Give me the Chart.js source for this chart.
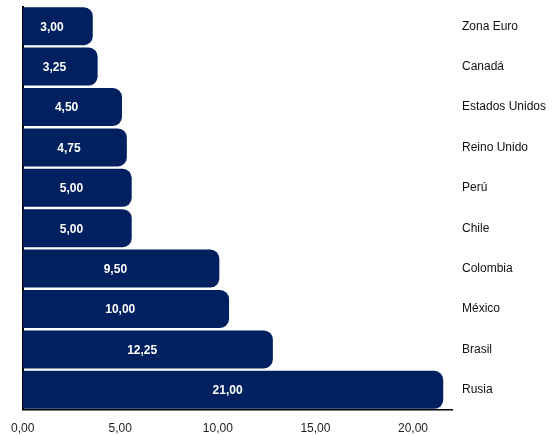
<!DOCTYPE html>
<html>
<head>
<meta charset="utf-8">
<script src="https://cdn.jsdelivr.net/npm/chart.js@4.4.1/dist/chart.umd.min.js"></script>
<style>
  html, body { margin: 0; padding: 0; background: #fff; }
  #wrap { width: 557px; height: 436px; }
</style>
</head>
<body>
<div id="wrap"><canvas id="tasasChart" width="557" height="436"></canvas></div>
<script>
const paises = ['Zona Euro', 'Canadá', 'Estados Unidos', 'Reino Unido', 'Perú', 'Chile', 'Colombia', 'México', 'Brasil', 'Rusia'];
const tasas = [3.00, 3.25, 4.50, 4.75, 5.00, 5.00, 9.50, 10.00, 12.25, 21.00];
const ticksX = [0, 5, 10, 15, 20];

const fmt = (v) => v.toFixed(2).replace('.', ',');

// white value labels, centred on the value along the visible axis
const etiquetas = {
  id: 'etiquetas',
  afterDatasetsDraw(chart) {
    const ctx = chart.ctx;
    const meta = chart.getDatasetMeta(0);
    const xs = chart.scales.x2;
    ctx.save();
    ctx.fillStyle = '#ffffff';
    ctx.font = 'bold 12px "Liberation Sans", Arial, sans-serif';
    ctx.textAlign = 'center';
    ctx.textBaseline = 'middle';
    meta.data.forEach((bar, i) => {
      const v = tasas[i];
      ctx.fillText(fmt(v), xs.getPixelForValue(v / 2), bar.y + 1);
    });
    ctx.restore();
  }
};

const ctx = document.getElementById('tasasChart').getContext('2d');
new Chart(ctx, {
  type: 'bar',
  data: {
    labels: paises,
    datasets: [
      {
        label: 'Tasa',
        data: tasas,
        xAxisID: 'x',
        base: -0.6,
        backgroundColor: '#002060',
        borderWidth: 0,
        borderRadius: 9,
        borderSkipped: 'start',
        barPercentage: 0.94,
        categoryPercentage: 1.0,
      },
    ],
  },
  options: {
    indexAxis: 'y',
    responsive: false,
    animation: false,
    layout: {
      padding: { top: 6, left: 22, right: 0, bottom: 0 },
    },
    plugins: {
      legend: { display: false },
      tooltip: { enabled: false },
    },
    scales: {
      x: {
        display: false,
        min: -0.6,
        max: 21.45,
      },
      x2: {
        type: 'linear',
        position: 'bottom',
        min: 0,
        max: 22,
        afterBuildTicks: (axis) => {
          axis.ticks = ticksX.map((v) => ({ value: v }));
        },
        afterFit: (axis) => { axis.height = 26; },
        ticks: {
          callback: (v) => fmt(v),
          color: '#222',
          font: { family: '"Liberation Sans", Arial, sans-serif', size: 12 },
          padding: 11,
          maxRotation: 0,
        },
        grid: {
          drawTicks: false,
          color: (c) => (c.tick && c.tick.value === 0 ? '#000' : 'rgba(0,0,0,0)'),
          lineWidth: 2,
        },
        border: { display: true, color: '#000', width: 1.5 },
      },
      y: {
        position: 'right',
        afterFit: (axis) => {
          axis.width = 105;
          axis.paddingTop = 0;
          axis.paddingBottom = 0;
        },
        ticks: {
          color: '#111',
          font: { family: '"Liberation Sans", Arial, sans-serif', size: 12 },
          padding: 10,
        },
        grid: { display: false, drawTicks: false },
        border: { display: false },
      },
    },
  },
  plugins: [etiquetas],
});
</script>
</body>
</html>
